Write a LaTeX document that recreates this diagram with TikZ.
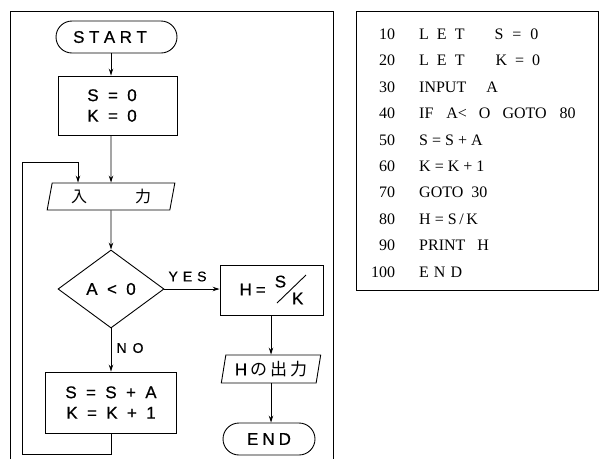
\documentclass[tikz,border=0pt]{standalone}
\usepackage{fontspec}
\setmainfont{Liberation Serif}
\newfontfamily\fcsans[FakeBold=0.6]{Liberation Sans}
\newfontfamily\cjk{Noto Sans CJK JP}
\usetikzlibrary{shapes.geometric,arrows.meta,calc}
\newcommand\gp{\hspace{0.55em}}
\begin{document}
\begin{tikzpicture}[x=1pt,y=-1pt,
  fc/.style={draw, line width=0.9pt, align=center, inner sep=0pt,
    font=\fcsans\fontsize{17}{20.5}\selectfont},
  term/.style={fc, rounded corners=16pt, minimum height=32pt},
  proc/.style={fc, rectangle},
  io/.style={fc, trapezium, trapezium left angle=77, trapezium right angle=103,
    trapezium stretches=true},
  decis/.style={fc, diamond},
  arr/.style={-{Stealth[length=7pt,width=4.5pt]}, line width=0.9pt},
  lab/.style={inner sep=0pt, font=\fcsans\fontsize{14}{16}\selectfont},
  frame/.style={line width=0.8pt}]
\useasboundingbox (0,0) rectangle (599,459);
% frames
\draw[frame] (10,459) -- (10,11) -- (333,11) -- (333,459);
\draw[frame] (356,11) rectangle (598.5,290);
% flowchart nodes
\node[term, minimum width=121pt] (start) at (116.5,37) {S\hspace{4.5pt}T\hspace{4.5pt}A\hspace{4.5pt}R\hspace{4.5pt}T\kern13pt};
\node[proc, minimum width=119pt, minimum height=59pt] (init) at (117.5,105.5) {S\gp=\gp0\kern11pt\\K\gp=\gp0\kern11pt};
\node[io, minimum width=128pt, minimum height=27pt] (input) at (111,196.5) {\cjk\fontsize{16}{18}\selectfont 入\hspace{48pt}力};
\node[decis, minimum width=106pt, minimum height=78pt] (dec) at (111,289) {A\gp<\gp0};
\node[proc, minimum width=103pt, minimum height=50pt] (hbox) at (271.5,290) {H\hspace{4pt}=\hspace{9pt}\raisebox{8pt}{S}\hspace{6pt}\raisebox{-9pt}{K}};
\node[io, minimum width=100pt, minimum height=28pt] (out) at (271,369) {H\hspace{3pt}{\cjk\fontsize{17}{18}\selectfont の\hspace{3pt}出\hspace{3pt}力}};
\node[term, minimum width=92pt] (end) at (269,439) {E\hspace{4pt}N\hspace{4pt}D};
\node[proc, minimum width=131pt, minimum height=61pt] (body) at (111,402.5) {S\gp=\gp S\gp+\gp A\\K\gp=\gp K\gp+\gp 1};
% slash of S/K
\draw[line width=0.9pt] ($(hbox.center)+(5.5,13)$) -- ($(hbox.center)+(34.5,-15)$);
% labels
\node[lab] (yes) at (187.5,276.5) {Y\hspace{5pt}E\hspace{5pt}S};
\node[lab] (no) at (130,348) {N\hspace{6pt}O};
% connectors
\draw[arr] (input |- start.south) -- (input |- init.north);
\draw[arr] (input |- init.south) -- (input.north);
\draw[arr] (input.south) -- (dec.north);
\draw[arr] (dec.east) -- (dec.east -| hbox.west);
\draw[arr] (dec.south) -- (body.north);
\draw[arr] (out.north |- hbox.south) -- (out.north);
\draw[arr] (out.south) -- (out.south |- end.north);
\coordinate (c2) at (22,454);
\coordinate (c4) at (78,162);
\draw[arr] (body.south) |- (c2) |- (c4) -- (c4 |- input.north);
% program listing
\node[anchor=north west, inner sep=0pt, font=\fontsize{16}{26.4}\selectfont] (prog) at (371,20.8) {%
\begin{tabular}{@{}r@{\hspace{24pt}}l@{}}
10 & L\hspace{8pt}E\hspace{8pt}T\hspace{30pt}S\hspace{9pt}=\hspace{9pt}0\\
20 & L\hspace{8pt}E\hspace{8pt}T\hspace{31pt}K\hspace{8pt}=\hspace{8pt}0\\
30 & INPUT\hspace{20pt}A\\
40 & IF\hspace{13pt}A<\hspace{12pt}O\hspace{12pt}GOTO\hspace{13pt}80\\
50 & S = S + A\\
60 & K = K + 1\\
70 & GOTO\hspace{8pt}30\\
80 & H = S\,/\,K\\
90 & PRINT\hspace{12pt}H\\
100 & E\hspace{5pt}N\hspace{5pt}D
\end{tabular}};
\end{tikzpicture}
\end{document}
